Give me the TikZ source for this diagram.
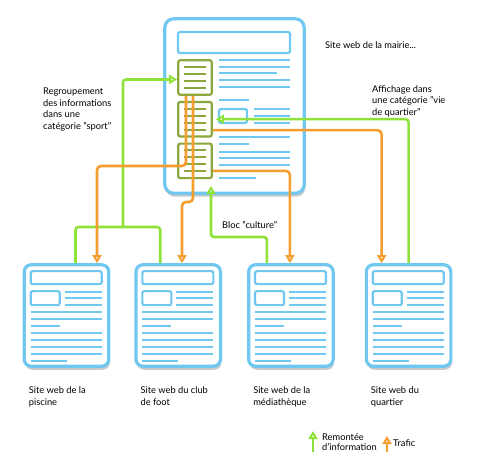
\documentclass[tikz,border=0pt]{standalone}
\usepackage{fontspec}
\setmainfont{Lato}
\usetikzlibrary{arrows.meta,positioning,calc,shadows}

\definecolor{pageblue}{RGB}{112,200,240}
\definecolor{blockgreen}{RGB}{140,166,62}
\definecolor{infogreen}{RGB}{142,226,58}
\definecolor{trafficorange}{RGB}{244,158,48}

\begin{document}
\begin{tikzpicture}[
    x=1pt, y=-1pt,
    webpage/.style={
        draw=pageblue, line width=3.2pt, fill=white, rounded corners=7pt,
        minimum width=84.5pt, minimum height=101.5pt, inner sep=0pt,
        drop shadow={shadow xshift=1pt, shadow yshift=-3.5pt, fill=black!70, opacity=0.3}
    },
    mainpage/.style={webpage, minimum width=139.5pt, minimum height=174.5pt, rounded corners=9pt},
    block/.style={
        draw=blockgreen, line width=2.2pt, fill=white, rounded corners=2pt,
        minimum width=33.5pt, minimum height=34.5pt, inner sep=0pt
    },
    bar/.style={draw=pageblue, line width=2.2pt, rounded corners=2pt},
    ln/.style={pageblue, line width=2.2pt},
    blockln/.style={blockgreen, line width=2.2pt},
    infoline/.style={infogreen, line width=2.6pt, rounded corners=3pt},
    info/.style={infoline, -{Triangle[open, length=8pt, width=9pt]}},
    traffic/.style={trafficorange, line width=2.6pt, rounded corners=4pt,
        -{Triangle[open, length=8pt, width=9pt]}},
    lbl/.style={font=\fontsize{9.3}{11.5}\selectfont, align=left, inner sep=0pt}
]
    \useasboundingbox (0,0) rectangle (480,468);

    % Site of the town hall
    \node[mainpage] (mairie) at (234.5,106) {};
    \draw[bar] (178,32) rectangle (290,53);
    \foreach \y/\xe in {60/290, 67/290, 73/277, 80/290, 87/290, 100/249,
                        137/290, 144/249, 152/290, 158/290, 165/290, 178/256}
        \draw[ln] (219,\y) -- (\xe,\y);
    \draw[bar] (219,109) rectangle (247,123);
    \foreach \y in {109,116,123}
        \draw[ln] (254,\y) -- (290,\y);

    % Blocks of the main site
    \node[block] (blk1) at (195,77.5) {};
    \node[block, below=5pt of blk1] (blk2) {};
    \node[block, below=5pt of blk2] (blk3) {};
    \foreach \b in {blk1,blk2,blk3}
        \foreach \dy in {-10.5,-3.5,3.5,10.5}
            \draw[blockln] ($(\b.center)+(-11,\dy)$) -- ++(22,0);

    % Partner sites
    \node[webpage] (piscine) at (66.5,315.5) {};
    \node[webpage, right=24pt of piscine] (foot) {};
    \node[webpage, right=25pt of foot] (media) {};
    \node[webpage, right=30pt of media] (quartier) {};
    \foreach \p in {piscine,foot,media,quartier}{
        \begin{scope}[shift={(\p.north west)}]
            \draw[bar] (8,8) rectangle (79,21);
            \draw[bar] (8,28) rectangle (37,42);
            \foreach \y in {29,35,42}
                \draw[ln] (42,\y) -- (79,\y);
            \foreach \y/\xe in {49/79, 56/79, 63/37, 70/79, 77/79, 84/79, 91/79, 98/44}
                \draw[ln] (8,\y) -- (\xe,\y);
        \end{scope}
    }

    % Labels
    \node[lbl, anchor=west] (mairielbl) at (325,45) {Site web de la mairie...};
    \node[lbl, anchor=north west] (sportlbl) at (43,88)
        {Regroupement\\des informations\\dans une\\catégorie "sport"};
    \node[lbl, anchor=north west] (quartierlbl) at (372,85)
        {Affichage dans\\une catégorie "vie\\de quartier"};
    \node[lbl, anchor=west] (culturelbl) at (222,225) {Bloc "culture"};
    \node[lbl, below right=19pt and 6pt of piscine.south west] (piscinelbl)
        {Site web de la\\piscine};
    \node[lbl, below right=19pt and 6pt of foot.south west] (footlbl)
        {Site web du club\\de foot};
    \node[lbl, below right=19pt and 6pt of media.south west] (medialbl)
        {Site web de la\\médiathèque};
    \node[lbl, below right=19pt and 6pt of quartier.south west] (quartierlbl2)
        {Site web du\\quartier};

    % Information going up
    \coordinate (sportjoin) at (123,227);
    \draw[infoline] ([xshift=9pt]piscine.north) |- (sportjoin)
        -| ([xshift=-18pt]foot.north);
    \draw[info] (sportjoin) |- ([yshift=-2pt]blk1.west);
    \draw[info] (quartier.north) |- ([xshift=3pt]blk2.east);
    \coordinate (cultbend) at (211,237);
    \coordinate (culttip) at (211,186);
    \draw[info] ([xshift=-24pt]media.north) |- (cultbend) -- (culttip);

    % Traffic going down
    \coordinate (tA) at (97,166);
    \draw[traffic] ([xshift=-9pt]blk1.south) |- (tA) -- (tA |- piscine.north);
    \coordinate (tB) at (182,202);
    \draw[traffic] ([xshift=-2pt]blk1.south) |- (tB) -- (tB |- foot.north);
    \draw[traffic] ([yshift=-11pt]blk2.east) -| ([xshift=-27pt]quartier.north);
    \draw[traffic] ([yshift=-10pt]blk3.east) -| ([xshift=-1pt]media.north);

    % Legend
    \coordinate (lgG) at (313,452);
    \coordinate (lgGtip) at (313,431);
    \draw[info] (lgG) -- (lgGtip);
    \node[lbl, font=\fontsize{9.3}{10}\selectfont, anchor=west] (lgGtxt) at (322,442)
        {Remontée\\d'information};
    \coordinate (lgO) at (387,452);
    \coordinate (lgOtip) at (387,436);
    \draw[traffic] (lgO) -- (lgOtip);
    \node[lbl, anchor=west] (lgOtxt) at (393,443) {Trafic};
\end{tikzpicture}
\end{document}
